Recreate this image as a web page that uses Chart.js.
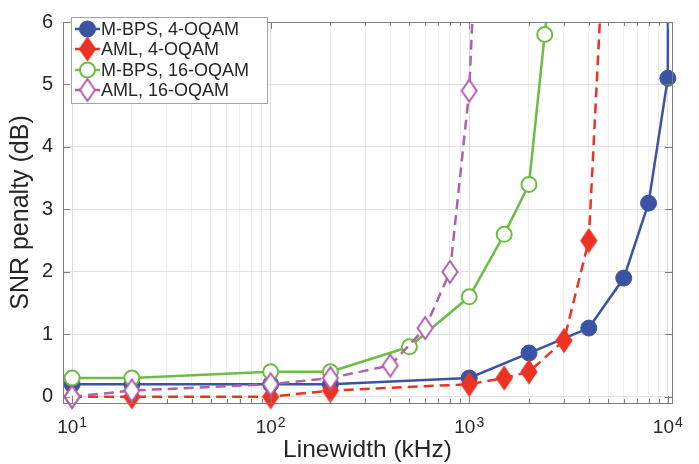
<!DOCTYPE html>
<html>
<head>
<meta charset="utf-8">
<script src="https://cdn.jsdelivr.net/npm/chart.js@4.4.0/dist/chart.umd.min.js"></script>
<style>
html, body { margin: 0; padding: 0; background: #fff; }
#wrap { width: 699px; height: 464px; }
</style>
</head>
<body>
<div id="wrap"><canvas id="chart-area" width="699" height="464"></canvas></div>
<script>
// linewidth in kHz, SNR penalty in dB (last point of each curve lies above the plot)
var bps4X  = [10, 20, 100, 200, 1000, 2000, 4000, 6000, 8000, 10000, 10100];
var bps4Y  = [0.2, 0.2, 0.2, 0.2, 0.3, 0.7, 1.1, 1.9, 3.1, 5.1, 12];
var aml4X  = [10, 20, 100, 200, 1000, 1500, 2000, 3000, 4000, 5000];
var aml4Y  = [0, 0, 0, 0.1, 0.2, 0.3, 0.4, 0.9, 2.5, 8.6];
var bps16X = [10, 20, 100, 200, 500, 1000, 1500, 2000, 2400, 3000];
var bps16Y = [0.3, 0.3, 0.4, 0.4, 0.8, 1.6, 2.6, 3.4, 5.8, 8.7];
var aml16X = [10, 20, 100, 200, 400, 600, 800, 1000, 1200];
var aml16Y = [0, 0.1, 0.2, 0.3, 0.5, 1.1, 2.0, 4.9, 10.6];

var seriesLabels = ['M-BPS, 4-OQAM', 'AML, 4-OQAM', 'M-BPS, 16-OQAM', 'AML, 16-OQAM'];
var yTickValues = [0, 1, 2, 3, 4, 5, 6];
var xTickExponents = [1, 2, 3, 4];

var FONT = '"Liberation Sans", Arial, sans-serif';
var TXT = '#262626';
var AXIS = '#7d7d7d';

let diamondIcon = function (fill, stroke) {
	var c = document.createElement('canvas');
	c.width = 20; c.height = 26;
	var g = c.getContext('2d');
	g.beginPath();
	g.moveTo(10, 2); g.lineTo(17.5, 13); g.lineTo(10, 24); g.lineTo(2.5, 13);
	g.closePath();
	g.fillStyle = fill; g.fill();
	g.lineWidth = 2; g.strokeStyle = stroke; g.stroke();
	return c;
};

let toPoints = function (xs, ys) {
	return xs.map((x, i) => ({ x: x, y: ys[i] }));
};

var blue = '#3b53a4', red = '#ec3323', green = '#6dbd45', purple = '#b05fae';
var redDiamond = diamondIcon(red, red);
var purpleDiamond = diamondIcon('#ffffff', purple);

var clipBox = { left: 12, right: 12, top: 0, bottom: 14 };

var datasets = [{
	label: seriesLabels[0],
	data: toPoints(bps4X, bps4Y),
	borderColor: blue, backgroundColor: blue, borderWidth: 2.5,
	pointStyle: 'circle', pointRadius: 8, pointBorderWidth: 1,
	order: 3, clip: clipBox
}, {
	label: seriesLabels[1],
	data: toPoints(aml4X, aml4Y),
	borderColor: red, backgroundColor: red, borderWidth: 2.5, borderDash: [10, 6],
	pointStyle: redDiamond, pointRadius: 9,
	order: 2, clip: clipBox
}, {
	label: seriesLabels[2],
	data: toPoints(bps16X, bps16Y),
	borderColor: green, backgroundColor: '#ffffff', borderWidth: 2.5,
	pointStyle: 'circle', pointRadius: 7.5, pointBorderWidth: 2,
	order: 1, clip: clipBox
}, {
	label: seriesLabels[3],
	data: toPoints(aml16X, aml16Y),
	borderColor: purple, backgroundColor: '#ffffff', borderWidth: 2.5, borderDash: [10, 6],
	pointStyle: purpleDiamond, pointRadius: 9,
	order: 0, clip: clipBox
}];

// inward ticks, box, superscript x labels and framed legend, drawn like the original figure
var matlabLook = {
	id: 'matlabLook',
	afterDraw: function (chart) {
		var ctx = chart.ctx, a = chart.chartArea;
		var xs = chart.scales.x, ys = chart.scales.y;
		ctx.save();
		ctx.strokeStyle = AXIS;
		ctx.lineWidth = 1;
		ctx.strokeRect(Math.round(a.left) + 0.5, Math.round(a.top) + 0.5,
			Math.round(a.right - a.left), Math.round(a.bottom - a.top));
		ctx.beginPath();
		xs.ticks.forEach(function (t) {
			var px = Math.round(xs.getPixelForValue(t.value)) + 0.5;
			var major = Math.abs(Math.log10(t.value) % 1) < 1e-9;
			var len = major ? 7 : 4;
			ctx.moveTo(px, a.bottom); ctx.lineTo(px, a.bottom - len);
			ctx.moveTo(px, a.top); ctx.lineTo(px, a.top + len);
		});
		yTickValues.forEach(function (v) {
			var py = Math.round(ys.getPixelForValue(v)) + 0.5;
			ctx.moveTo(a.left, py); ctx.lineTo(a.left + 7, py);
			ctx.moveTo(a.right, py); ctx.lineTo(a.right - 7, py);
		});
		ctx.stroke();

		ctx.fillStyle = TXT;
		ctx.textBaseline = 'alphabetic';
		ctx.textAlign = 'left';
		xTickExponents.forEach(function (e) {
			var px = xs.getPixelForValue(Math.pow(10, e));
			ctx.font = '19px ' + FONT;
			var w1 = ctx.measureText('10').width;
			ctx.font = '14px ' + FONT;
			var w2 = ctx.measureText(String(e)).width;
			var x0 = px - (w1 + w2 + 1) / 2;
			ctx.font = '19px ' + FONT;
			ctx.fillText('10', x0, 433);
			ctx.font = '14px ' + FONT;
			ctx.fillText(String(e), x0 + w1 + 1, 427);
		});

		// legend
		var lx = 71.5, ly = 17.5, lw = 196, lh = 86;
		ctx.fillStyle = '#ffffff';
		ctx.fillRect(lx, ly, lw, lh);
		ctx.strokeStyle = '#a3a3a3';
		ctx.strokeRect(lx, ly, lw, lh);
		var rows = [29, 49, 70, 90];
		chart.data.datasets.forEach(function (ds, i) {
			var y = rows[i];
			ctx.save();
			ctx.strokeStyle = ds.borderColor;
			ctx.lineWidth = 2.5;
			ctx.setLineDash(ds.borderDash || []);
			ctx.beginPath(); ctx.moveTo(75, y); ctx.lineTo(100, y); ctx.stroke();
			ctx.restore();
			if (ds.pointStyle === 'circle') {
				ctx.beginPath();
				ctx.arc(87.5, y, ds.pointRadius, 0, Math.PI * 2);
				ctx.fillStyle = ds.backgroundColor; ctx.fill();
				ctx.lineWidth = ds.pointBorderWidth; ctx.strokeStyle = ds.borderColor; ctx.stroke();
			} else {
				ctx.drawImage(ds.pointStyle, 87.5 - 10, y - 13);
			}
			ctx.fillStyle = TXT;
			ctx.font = '18px ' + FONT;
			ctx.textBaseline = 'middle';
			ctx.fillText(ds.label, 101, y + 1);
		});
		ctx.restore();
	}
};

var xGridValues = [];
[10, 100, 1000].forEach(function (d) {
	for (var k = 1; k <= 9; k++) xGridValues.push(k * d);
});
xGridValues.push(10000);

var config = {
	type: 'line',
	data: { datasets: datasets },
	options: {
		responsive: false,
		animation: false,
		devicePixelRatio: 1,
		layout: { padding: { left: 0, right: 27, top: 12, bottom: 0 } },
		plugins: { legend: { display: false }, tooltip: { enabled: false } },
		scales: {
			x: {
				type: 'logarithmic',
				min: 9, max: 10500,
				afterBuildTicks: function (s) { s.ticks = xGridValues.map(v => ({ value: v })); },
				afterFit: function (s) { s.height = 61; },
				ticks: { display: false },
				grid: {
					drawTicks: false,
					color: function (c) {
						var v = c.tick ? c.tick.value : 0;
						return Math.abs(Math.log10(v) % 1) < 1e-9 ? '#dcdcdc' : '#efefef';
					}
				},
				border: { display: false },
				title: {
					display: true, text: 'Linewidth (kHz)', color: TXT,
					font: { family: FONT, size: 24.5, lineHeight: 1 },
					padding: { top: 0, bottom: 2 }
				}
			},
			y: {
				type: 'linear',
				min: -0.1, max: 6,
				afterBuildTicks: function (s) { s.ticks = yTickValues.map(v => ({ value: v })); },
				afterFit: function (s) { s.width = 63; },
				ticks: { color: TXT, padding: 10, font: { family: FONT, size: 20 } },
				grid: { drawTicks: false, color: '#e2e2e2' },
				border: { display: false },
				title: {
					display: true, text: 'SNR penalty (dB)', color: TXT,
					font: { family: FONT, size: 25, lineHeight: 1 },
					padding: { top: 9, bottom: 0 }
				}
			}
		}
	},
	plugins: [matlabLook]
};

window.myChart = new Chart(document.getElementById('chart-area').getContext('2d'), config);
</script>
</body>
</html>
